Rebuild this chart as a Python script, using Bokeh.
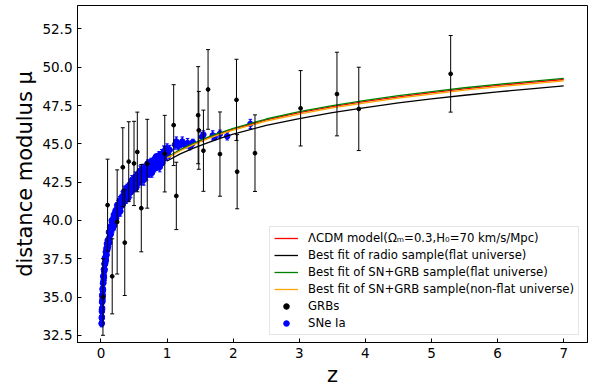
from bokeh.plotting import figure
from bokeh.models import Range1d, FixedTicker, NumeralTickFormatter, Legend, LegendItem
from bokeh.embed import file_html
from bokeh.resources import INLINE

# ---------------- data ----------------
grb_z = [0.03, 0.10, 0.17, 0.245, 0.33, 0.36, 0.42, 0.50, 0.55, 0.61, 0.70, 0.965,
         1.10, 1.14, 1.47, 1.48, 1.55, 1.62, 1.80, 2.05, 2.06, 2.33, 3.02, 3.57, 3.90, 5.29]
grb_mu = [35.0, 41.0, 36.35, 39.9, 43.47, 38.55, 43.84, 43.72, 44.47, 40.8, 43.7, 44.36,
          46.22, 41.6, 46.87, 45.88, 44.55, 48.55, 44.33, 47.87, 43.18, 44.39, 47.32, 48.25, 47.28, 49.57]
grb_err = [2.5, 3.0, 2.45, 3.4, 2.58, 3.45, 2.6, 2.75, 2.6, 2.85, 2.9, 2.5,
           2.64, 2.2, 3.17, 2.54, 2.65, 2.6, 2.75, 2.65, 2.42, 2.5, 2.46, 2.73, 2.72, 2.5]

sn_z = [0.010, 0.011, 0.012, 0.013, 0.014, 0.015, 0.016, 0.017, 0.018, 0.019,
        0.020, 0.021, 0.022, 0.023, 0.024, 0.025, 0.026, 0.027, 0.028, 0.030,
        0.031, 0.033, 0.035, 0.036, 0.038, 0.040, 0.042, 0.044, 0.046, 0.048,
        0.050, 0.053, 0.056, 0.058, 0.060, 0.063, 0.065, 0.068, 0.070, 0.073,
        0.075, 0.078, 0.080, 0.083, 0.085, 0.088, 0.090, 0.093, 0.095, 0.098,
        0.102, 0.108, 0.114, 0.12, 0.126, 0.132, 0.138, 0.144, 0.15, 0.156,
        0.162, 0.168, 0.174, 0.18, 0.187, 0.194, 0.20, 0.207, 0.214, 0.22,
        0.228, 0.236, 0.244, 0.252, 0.26, 0.268, 0.276, 0.285, 0.294, 0.303,
        0.312, 0.321, 0.33, 0.34, 0.35, 0.36, 0.37, 0.38, 0.39, 0.40,
        0.41, 0.42, 0.43, 0.44, 0.45, 0.46, 0.47, 0.48, 0.49, 0.50,
        0.51, 0.52, 0.53, 0.54, 0.55, 0.56, 0.57, 0.58, 0.59, 0.60,
        0.61, 0.62, 0.63, 0.64, 0.65, 0.66, 0.67, 0.68, 0.69, 0.70,
        0.71, 0.72, 0.73, 0.74, 0.75, 0.76, 0.77, 0.78, 0.79, 0.80,
        0.81, 0.82, 0.83, 0.84, 0.85, 0.86, 0.87, 0.88, 0.89, 0.90,
        0.91, 0.92, 0.93, 0.94, 0.95,
        0.97, 0.99, 1.00, 1.02, 1.04, 1.12, 1.14, 1.17, 1.20, 1.23,
        1.27, 1.31, 1.34, 1.37, 1.39, 1.53, 1.55, 1.69, 1.72, 1.80,
        1.91, 2.26]
sn_mu = [33.25, 33.30, 33.62, 34.05, 33.70, 34.20, 34.15, 34.65, 34.28, 34.70,
         35.08, 34.72, 35.15, 34.85, 35.15, 35.55, 35.02, 35.52, 35.40, 35.90,
         35.48, 35.92, 36.33, 35.90, 36.37, 36.10, 36.40, 36.80, 36.30, 36.80,
         36.68, 37.16, 36.80, 37.18, 37.55, 37.16, 37.58, 37.29, 37.56, 37.95,
         37.41, 37.91, 37.75, 38.19, 37.75, 38.13, 38.48, 38.05, 38.45, 38.13,
         38.71, 38.30, 38.72, 39.24, 38.55, 39.16, 39.02, 39.62, 39.12, 39.41,
         40.00, 39.43, 39.97, 39.50, 39.88, 40.37, 39.66, 40.24, 40.07, 40.64,
         40.12, 40.41, 40.99, 40.41, 40.94, 40.47, 40.84, 41.32, 40.60, 41.17,
         41.00, 41.57, 41.04, 41.32, 41.89, 41.31, 41.83, 41.35, 41.72, 42.18,
         41.44, 42.00, 41.81, 42.37, 41.83, 42.09, 42.65, 42.05, 42.56, 42.06,
         42.41, 42.86, 42.11, 42.66, 42.46, 43.01, 42.45, 42.70, 43.24, 42.64,
         43.13, 42.62, 42.97, 43.41, 42.65, 43.19, 42.98, 43.52, 42.96, 43.20,
         43.74, 43.12, 43.61, 43.09, 43.43, 43.86, 43.10, 43.63, 43.42, 43.95,
         43.38, 43.61, 44.15, 43.53, 44.01, 43.49, 43.82, 44.26, 43.49, 44.02,
         43.80, 44.33, 43.76, 43.98, 44.51,
         44.55, 44.15, 44.70, 44.25, 44.60, 44.95, 45.15, 44.85, 44.95, 45.15,
         44.90, 45.05, 44.85, 44.95, 45.10, 45.45, 45.60, 45.55, 45.45, 45.65,
         45.50, 46.30]
sn_err = [0.20, 0.15, 0.25, 0.18, 0.30, 0.22, 0.16, 0.28, 0.20, 0.24,
          0.20, 0.15, 0.25, 0.18, 0.30, 0.22, 0.16, 0.28, 0.20, 0.24,
          0.20, 0.15, 0.25, 0.18, 0.30, 0.22, 0.16, 0.28, 0.20, 0.24,
          0.20, 0.15, 0.25, 0.18, 0.30, 0.22, 0.16, 0.28, 0.20, 0.24,
          0.20, 0.15, 0.25, 0.18, 0.30, 0.22, 0.16, 0.28, 0.20, 0.24,
          0.22, 0.30, 0.18, 0.26, 0.35, 0.20, 0.28, 0.24, 0.32, 0.19,
          0.22, 0.30, 0.18, 0.26, 0.35, 0.20, 0.28, 0.24, 0.32, 0.19,
          0.22, 0.30, 0.18, 0.26, 0.35, 0.20, 0.28, 0.24, 0.32, 0.19,
          0.22, 0.30, 0.18, 0.26, 0.35, 0.20, 0.28, 0.24, 0.32, 0.19,
          0.22, 0.30, 0.18, 0.26, 0.35, 0.20, 0.28, 0.24, 0.32, 0.19,
          0.22, 0.30, 0.18, 0.26, 0.35, 0.20, 0.28, 0.24, 0.32, 0.19,
          0.22, 0.30, 0.18, 0.26, 0.35, 0.20, 0.28, 0.24, 0.32, 0.19,
          0.22, 0.30, 0.18, 0.26, 0.35, 0.20, 0.28, 0.24, 0.32, 0.19,
          0.22, 0.30, 0.18, 0.26, 0.35, 0.20, 0.28, 0.24, 0.32, 0.19,
          0.22, 0.30, 0.18, 0.26, 0.35,
          0.30, 0.25, 0.30, 0.20, 0.30, 0.30, 0.30, 0.25, 0.20, 0.30,
          0.20, 0.30, 0.25, 0.20, 0.20, 0.30, 0.25, 0.30, 0.20, 0.25,
          0.25, 0.30]

model_z = [1.0, 1.2, 1.4, 1.6, 1.8, 2.0, 2.5, 3.0, 3.5, 4.0, 4.5, 5.0, 5.5, 6.0, 6.5, 7.0]
mu_lcdm = [44.10, 44.59, 45.00, 45.36, 45.68, 45.96, 46.56, 47.03, 47.43, 47.77, 48.07, 48.34, 48.59, 48.81, 49.01, 49.20]
mu_radio_flat = [43.88, 44.34, 44.72, 45.05, 45.36, 45.63, 46.20, 46.65, 47.04, 47.37, 47.67, 47.93, 48.17, 48.39, 48.59, 48.78]
mu_sngrb_flat = [44.12, 44.62, 45.03, 45.40, 45.72, 46.01, 46.62, 47.10, 47.50, 47.84, 48.14, 48.41, 48.66, 48.88, 49.08, 49.27]
mu_sngrb_nonflat = [44.07, 44.55, 44.95, 45.30, 45.61, 45.89, 46.48, 46.94, 47.34, 47.68, 47.98, 48.25, 48.50, 48.72, 48.92, 49.11]

x_ticks = [0, 1, 2, 3, 4, 5, 6, 7]
y_ticks = [32.5, 35.0, 37.5, 40.0, 42.5, 45.0, 47.5, 50.0, 52.5]

labels = ["\u039bCDM model(\u03a9\u2098=0.3,H\u2080=70 km/s/Mpc)",
          "Best fit of radio sample(flat universe)",
          "Best fit of SN+GRB sample(flat universe)",
          "Best fit of SN+GRB sample(non-flat universe)",
          "GRBs",
          "SNe Ia"]

# ---------------- figure ----------------
FONT = "DejaVu Sans"
p = figure(width=602, height=389, output_backend="svg", toolbar_location=None,
           x_range=Range1d(-0.355, 7.36), y_range=Range1d(32.03, 54.03),
           min_border_left=77, min_border_right=15, min_border_top=5, min_border_bottom=44)
p.background_fill_color = "white"
p.border_fill_color = "white"
p.outline_line_color = "black"
p.outline_line_width = 1
p.xgrid.visible = False
p.ygrid.visible = False

for ax in (p.xaxis[0], p.yaxis[0]):
    ax.major_tick_in = 4
    ax.major_tick_out = 0
    ax.minor_tick_in = 0
    ax.minor_tick_out = 0
    ax.major_tick_line_color = "black"
    ax.axis_line_color = "black"
    ax.major_label_text_font = FONT
    ax.major_label_text_font_size = "13.5px"
    ax.major_label_text_color = "black"
    ax.axis_label_text_font = FONT
    ax.axis_label_text_font_size = "21px"
    ax.axis_label_text_font_style = "normal"
    ax.axis_label_text_color = "black"
    ax.major_label_standoff = 5
    ax.axis_label_standoff = 2

p.xaxis[0].ticker = FixedTicker(ticks=x_ticks)
p.yaxis[0].ticker = FixedTicker(ticks=y_ticks)
p.xaxis[0].formatter = NumeralTickFormatter(format="0")
p.yaxis[0].formatter = NumeralTickFormatter(format="0.0")
p.xaxis[0].axis_label = "z"
p.yaxis[0].axis_label = "distance modulus \u03bc"

# SN Ia error bars and points
sn_lo = [m - e for m, e in zip(sn_mu, sn_err)]
sn_hi = [m + e for m, e in zip(sn_mu, sn_err)]
p.segment(x0=sn_z, y0=sn_lo, x1=sn_z, y1=sn_hi, line_color="blue", line_width=1.6)
p.scatter(x=sn_z, y=sn_lo, marker="dash", size=3.5, line_color="blue", line_width=1)
p.scatter(x=sn_z, y=sn_hi, marker="dash", size=3.5, line_color="blue", line_width=1)
r_sn = p.scatter(x=sn_z, y=sn_mu, marker="circle", size=5.5, fill_color="blue", line_color="blue")

# model curves
r_lcdm = p.line(model_z, mu_lcdm, line_color="red", line_width=1.3)
r_radio = p.line(model_z, mu_radio_flat, line_color="black", line_width=1.3)
r_flat = p.line(model_z, mu_sngrb_flat, line_color="green", line_width=1.3)
r_nonflat = p.line(model_z, mu_sngrb_nonflat, line_color="orange", line_width=1.3)

# GRB error bars and points
grb_lo = [m - e for m, e in zip(grb_mu, grb_err)]
grb_hi = [m + e for m, e in zip(grb_mu, grb_err)]
p.segment(x0=grb_z, y0=grb_lo, x1=grb_z, y1=grb_hi, line_color="black", line_width=1)
p.scatter(x=grb_z, y=grb_lo, marker="dash", size=4, line_color="black", line_width=1)
p.scatter(x=grb_z, y=grb_hi, marker="dash", size=4, line_color="black", line_width=1)
r_grb = p.scatter(x=grb_z, y=grb_mu, marker="circle", size=3.8, fill_color="black", line_color="black")

legend = Legend(items=[LegendItem(label=labels[0], renderers=[r_lcdm]),
                       LegendItem(label=labels[1], renderers=[r_radio]),
                       LegendItem(label=labels[2], renderers=[r_flat]),
                       LegendItem(label=labels[3], renderers=[r_nonflat]),
                       LegendItem(label=labels[4], renderers=[r_grb]),
                       LegendItem(label=labels[5], renderers=[r_sn])],
                location=(192, 7))
legend.label_text_font = FONT
legend.label_text_font_size = "11.7px"
legend.label_text_color = "black"
legend.glyph_width = 24
legend.glyph_height = 14
legend.label_height = 14
legend.label_standoff = 10
legend.spacing = 3
legend.padding = 4
legend.margin = 0
legend.border_line_color = "#cccccc"
legend.border_line_width = 1
legend.background_fill_color = "white"
legend.background_fill_alpha = 0.8
p.add_layout(legend, "center")

open("out.html", "w").write(file_html(p, INLINE))
